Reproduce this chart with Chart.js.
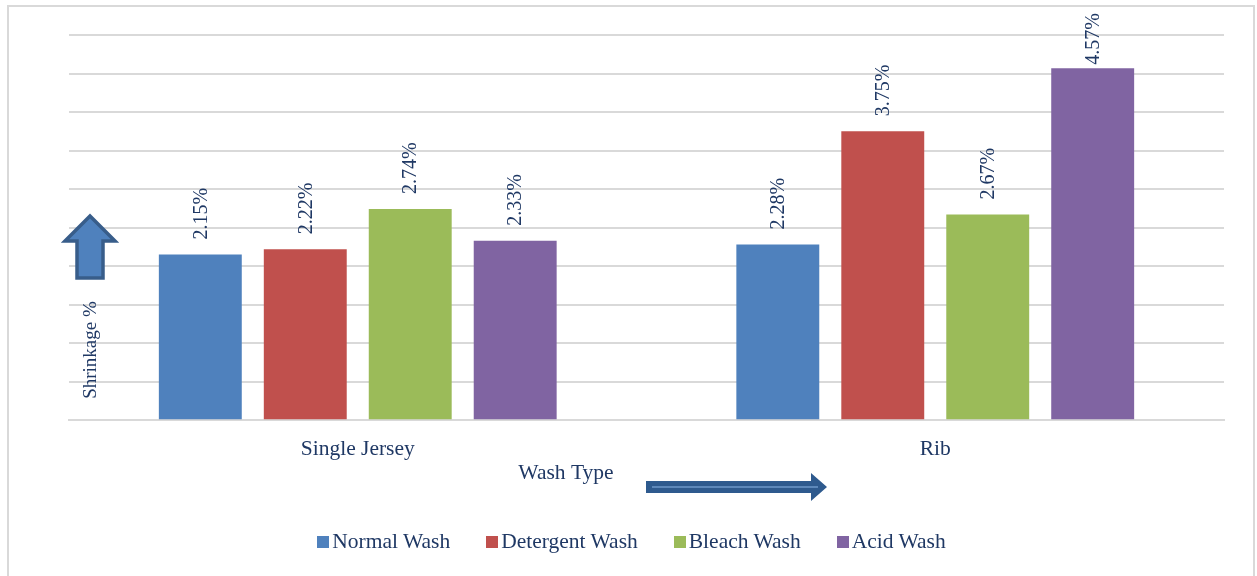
<!DOCTYPE html>
<html>
<head>
<meta charset="utf-8">
<title>Shrinkage % by Wash Type</title>
<script src="https://cdn.jsdelivr.net/npm/chart.js"></script>
<style>
  html, body { margin:0; padding:0; background:#fff; }
  #wrap { position:relative; width:1257px; height:576px; overflow:hidden; }
  #frame { position:absolute; left:7px; top:5px; width:1244px; height:600px; border:2px solid #d9d9d9; pointer-events:none; }
  canvas { position:absolute; left:0; top:0; }
  #legend { position:absolute; left:0; top:527px; width:1263px; display:flex; justify-content:center;
            font-family:'Liberation Serif','Times New Roman',serif; font-size:21.5px; color:#1F3864; line-height:28px; }
  #legend .item { display:flex; align-items:center; margin:0 18px; }
  #legend .box { width:12px; height:12px; margin-right:3px; margin-top:1px; }
</style>
</head>
<body>
<div id="wrap">
  <canvas id="chart" width="1257" height="576"></canvas>
  <div id="legend"></div>
  <div id="frame"></div>
</div>
<script>
const categories = ["Single Jersey", "Rib"];
const seriesNames = ["Normal Wash", "Detergent Wash", "Bleach Wash", "Acid Wash"];
const normalWash = [2.15, 2.28];
const detergentWash = [2.22, 3.75];
const bleachWash = [2.74, 2.67];
const acidWash = [2.33, 4.57];
const colors = ["#4F81BD", "#C0504D", "#9BBB59", "#8064A2"];

const navy = "#1F3864";
const serif = "'Liberation Serif', 'Times New Roman', serif";

// value labels, rotated, above each bar
const barLabels = {
  id: "barLabels",
  afterDatasetsDraw(chart) {
    const ctx = chart.ctx;
    ctx.save();
    ctx.font = "20px " + serif;
    ctx.fillStyle = navy;
    ctx.textAlign = "left";
    ctx.textBaseline = "middle";
    chart.data.datasets.forEach((ds, i) => {
      chart.getDatasetMeta(i).data.forEach((bar, j) => {
        const txt = ds.data[j].toFixed(2) + "%";
        const w = ctx.measureText(txt).width;
        let start = bar.y - 15;
        if (start - w < 13) start = 13 + w;
        ctx.save();
        ctx.translate(bar.x + 1, start);
        ctx.rotate(-Math.PI / 2);
        ctx.fillText(txt, 0, 0);
        ctx.restore();
      });
    });
    ctx.restore();
  }
};

// axis titles and the two arrows
const decorations = {
  id: "decorations",
  afterDraw(chart) {
    const ctx = chart.ctx;
    ctx.save();
    ctx.fillStyle = "#4F81BD";
    ctx.strokeStyle = "#385D8A";
    ctx.lineWidth = 3.5;
    // up arrow
    ctx.beginPath();
    ctx.moveTo(90, 216);
    ctx.lineTo(115, 241);
    ctx.lineTo(103, 241);
    ctx.lineTo(103, 278);
    ctx.lineTo(77, 278);
    ctx.lineTo(77, 241);
    ctx.lineTo(65, 241);
    ctx.closePath();
    ctx.fill();
    ctx.stroke();
    // right arrow
    ctx.fillStyle = "#2E5A8E";
    ctx.beginPath();
    ctx.moveTo(646, 481);
    ctx.lineTo(811, 481);
    ctx.lineTo(811, 473);
    ctx.lineTo(827, 487);
    ctx.lineTo(811, 501);
    ctx.lineTo(811, 493);
    ctx.lineTo(646, 493);
    ctx.closePath();
    ctx.fill();
    ctx.strokeStyle = "#6E98C9";
    ctx.lineWidth = 1.5;
    ctx.beginPath();
    ctx.moveTo(652, 487);
    ctx.lineTo(818, 487);
    ctx.stroke();

    ctx.fillStyle = navy;
    ctx.font = "21.5px " + serif;
    ctx.textAlign = "center";
    ctx.textBaseline = "middle";
    ctx.fillText("Wash Type", 566, 473);
    ctx.font = "19px " + serif;
    ctx.save();
    ctx.translate(91, 350);
    ctx.rotate(-Math.PI / 2);
    ctx.fillText("Shrinkage %", 0, 0);
    ctx.restore();
    ctx.restore();
  }
};

const values = [normalWash, detergentWash, bleachWash, acidWash];

new Chart(document.getElementById("chart"), {
  type: "bar",
  data: {
    labels: categories,
    datasets: seriesNames.map((name, i) => ({
      label: name,
      data: values[i],
      backgroundColor: colors[i],
      borderWidth: 0,
      barPercentage: 0.79,
      categoryPercentage: 0.727
    }))
  },
  options: {
    responsive: false,
    animation: false,
    devicePixelRatio: 1,
    layout: { padding: { left: 69, right: 33, top: 35, bottom: 106 } },
    scales: {
      x: {
        grid: { display: false },
        border: { color: "#d9d9d9", width: 2 },
        ticks: { color: navy, font: { family: serif, size: 21.5 }, padding: 8 }
      },
      y: {
        min: 0,
        max: 5,
        ticks: { display: false, stepSize: 0.5 },
        grid: { color: "#d9d9d9", lineWidth: 2, drawTicks: false },
        border: { display: false }
      }
    },
    plugins: {
      legend: { display: false },
      tooltip: { enabled: false }
    }
  },
  plugins: [barLabels, decorations]
});

// legend built from the same series names and colours
const legendEl = document.getElementById("legend");
seriesNames.forEach((name, i) => {
  const item = document.createElement("div");
  item.className = "item";
  const box = document.createElement("span");
  box.className = "box";
  box.style.background = colors[i];
  const label = document.createElement("span");
  label.textContent = name;
  item.appendChild(box);
  item.appendChild(label);
  legendEl.appendChild(item);
});
</script>
</body>
</html>
